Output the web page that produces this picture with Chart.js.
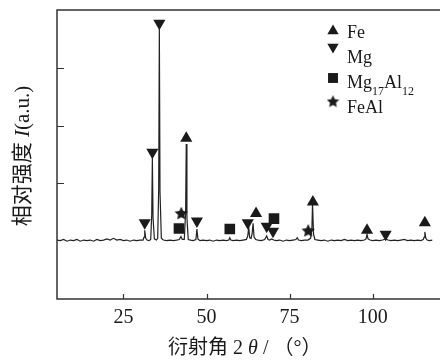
<!DOCTYPE html>
<html>
<head>
<meta charset="utf-8">
<script src="https://cdn.jsdelivr.net/npm/chart.js@4.4.1/dist/chart.umd.min.js"></script>
<style>
html, body { margin: 0; padding: 0; background: #fff; }
#c { display: block; }
</style>
</head>
<body>
<canvas id="c" width="440" height="361"></canvas>
<script>
// XRD pattern: 2θ (deg) and relative intensity
const twoTheta = [
    5, 6, 7, 8, 9, 10, 11, 12, 13, 14, 15, 16, 17, 18, 19, 20, 21, 22, 23, 24,
    25, 26, 27, 28, 29, 30, 30.9, 31.2, 31.4, 31.7, 32.1, 32.7, 33.2, 33.5, 33.7, 33.9,
    34.3, 34.9, 35.3, 35.6, 35.8, 36.0, 36.4, 37.0, 38, 39, 40, 41, 41.8, 42.3, 42.7,
    43.3, 43.7, 43.9, 44.1, 44.5, 45.2, 46.0, 46.8, 47.1, 47.4, 48, 49, 50, 51, 52,
    53, 54, 55, 56, 56.7, 57.0, 57.3, 58, 59, 60, 61, 62.0, 62.4, 62.7, 63.0, 63.4,
    63.7, 64.0, 64.3, 64.8, 65.5, 66.5, 67.5, 68.1, 68.5, 69.0, 69.6, 70.2, 71, 72,
    73, 74, 75, 76, 76.9, 77.3, 77.7, 78.5, 79.5, 80.5, 81.3, 81.7, 81.9, 82.2, 82.6,
    83.5, 84.5, 85.5, 86.5, 87.5, 88.5, 89.5, 90.5, 91.5, 92.5, 93.5, 94.5, 95.5,
    96.5, 97.5, 98.0, 98.3, 98.6, 99.2, 100, 101, 102, 103, 103.9, 104.6, 105.5,
    106.5, 107.5, 108.5, 109.5, 110.5, 111.5, 112.5, 113.5, 114.5, 115.2, 115.5,
    115.7, 116.0, 116.4, 117, 118
];
const intensity = [
    0.02, 0.01, 0.03, 0.00, 0.02, 0.01, 0.03, 0.00, 0.02, 0.01, 0.02, 0.00, 0.03, 0.01, 0.02, 0.04, 0.02, 0.05, 0.02, 0.03,
    0.01, 0.02, 0.00, 0.02, 0.01, 0.02, 0.02, 0.07, 0.19, 0.05, 0.02, 0.01, 0.03, 0.45, 1.45, 0.40,
    0.04, 0.02, 0.05, 0.90, 3.68, 0.85, 0.05, 0.02, 0.01, 0.02, 0.01, 0.02, 0.03, 0.08, 0.03,
    0.03, 0.50, 1.68, 0.40, 0.03, 0.02, 0.01, 0.03, 0.21, 0.04, 0.01, 0.02, 0.01, 0.02, 0.00,
    0.02, 0.01, 0.02, 0.01, 0.02, 0.06, 0.02, 0.01, 0.02, 0.01, 0.02, 0.03, 0.09, 0.24, 0.06, 0.05,
    0.12, 0.31, 0.07, 0.03, 0.02, 0.01, 0.03, 0.09, 0.03, 0.02, 0.04, 0.02, 0.01, 0.02,
    0.00, 0.02, 0.01, 0.02, 0.03, 0.06, 0.02, 0.01, 0.02, 0.02, 0.05, 0.20, 0.66, 0.12, 0.03,
    0.02, 0.01, 0.02, 0.00, 0.02, 0.01, 0.02, 0.01, 0.03, 0.01, 0.02, 0.01, 0.02,
    0.01, 0.02, 0.04, 0.12, 0.04, 0.02, 0.01, 0.02, 0.01, 0.02, 0.04, 0.02, 0.01,
    0.02, 0.01, 0.02, 0.03, 0.01, 0.02, 0.01, 0.02, 0.01, 0.03, 0.07,
    0.16, 0.05, 0.02, 0.01, 0.02
];

const xTicks = [25, 50, 75, 100];
const yTicks = [1, 2, 3];

// phase markers (2θ, height above the peak)
const feX = [43.9, 64.9, 82.0, 98.3, 115.7];
const feY = [1.78, 0.48, 0.68, 0.19, 0.32];
const mgX = [31.4, 33.7, 35.8, 47.1, 62.4, 68.1, 70.0, 103.9];
const mgY = [0.32, 1.54, 3.77, 0.35, 0.32, 0.26, 0.17, 0.12];
const mgAlX = [41.7, 57.0, 70.3];
const mgAlY = [0.22, 0.21, 0.39];
const feAlX = [42.4, 80.6];
const feAlY = [0.49, 0.19];

const phaseNames = ['Fe', 'Mg', 'Mg17Al12', 'FeAl'];

const SERIF = '"Liberation Serif", "Noto Sans CJK SC", serif';
const INK = '#1a1a1a';

function makeStar(size) {
    const c = document.createElement('canvas');
    c.width = size; c.height = size;
    const g = c.getContext('2d');
    const cx = size / 2, cy = size / 2 + size * 0.06, R = size / 2, r = R * 0.48;
    g.beginPath();
    for (let i = 0; i < 10; i++) {
        const a = -Math.PI / 2 + i * Math.PI / 5;
        const rr = i % 2 ? r : R;
        g.lineTo(cx + rr * Math.cos(a), cy + rr * Math.sin(a));
    }
    g.closePath();
    g.fillStyle = INK;
    g.fill();
    return c;
}
const starImg = makeStar(14);
const starSmall = makeStar(13);

const toPts = (xs, ys) => xs.map((x, i) => ({ x: x, y: ys[i] }));

const markerStyles = [
    { pointStyle: 'triangle', rotation: 0, radius: 7 },
    { pointStyle: 'triangle', rotation: 180, radius: 7 },
    { pointStyle: 'rect', rotation: 0, radius: 7.5 },
    { pointStyle: starImg, rotation: 0, radius: 7 }
];
const markerData = [toPts(feX, feY), toPts(mgX, mgY), toPts(mgAlX, mgAlY), toPts(feAlX, feAlY)];

function richWidth(ctx, parts, size) {
    let w = 0;
    parts.forEach(p => {
        ctx.font = (p[1] ? 'italic ' : '') + size + 'px ' + SERIF;
        w += ctx.measureText(p[0]).width;
    });
    return w;
}
function drawRich(ctx, parts, size, cx, cy) {
    let x = cx - richWidth(ctx, parts, size) / 2;
    ctx.textBaseline = 'middle';
    ctx.textAlign = 'left';
    parts.forEach(p => {
        ctx.font = (p[1] ? 'italic ' : '') + size + 'px ' + SERIF;
        ctx.fillText(p[0], x, cy);
        x += ctx.measureText(p[0]).width;
    });
}

const framePlugin = {
    id: 'frame',
    afterDraw(chart) {
        const ctx = chart.ctx;
        const a = chart.chartArea;
        const xs = chart.scales.x, ys = chart.scales.y;
        ctx.save();
        ctx.strokeStyle = '#333';
        ctx.lineWidth = 1.5;
        ctx.beginPath();
        ctx.moveTo(chart.width, a.top);
        ctx.lineTo(a.left, a.top);
        ctx.lineTo(a.left, a.bottom);
        ctx.lineTo(chart.width, a.bottom);
        ctx.stroke();

        // inward ticks
        ctx.lineWidth = 1.2;
        ctx.beginPath();
        xTicks.forEach(v => {
            const px = Math.round(xs.getPixelForValue(v)) + 0.5;
            ctx.moveTo(px, a.bottom);
            ctx.lineTo(px, a.bottom - 5);
        });
        yTicks.forEach(v => {
            const py = Math.round(ys.getPixelForValue(v)) + 0.5;
            ctx.moveTo(a.left, py);
            ctx.lineTo(a.left + 7, py);
        });
        ctx.stroke();

        // axis titles
        ctx.fillStyle = INK;
        drawRich(ctx, [['衍射角 2 ', false], ['θ', true], [' / （°）', false]], 20,
            (a.left + a.right) / 2, 349);
        ctx.save();
        ctx.translate(23, 156);
        ctx.rotate(-Math.PI / 2);
        drawRich(ctx, [['相对强度 ', false], ['I', true], ['(a.u.)', false]], 21, 0, 0);
        ctx.restore();

        // legend
        const lx = 333, tx = 347;
        const baselines = [38, 63, 88, 113];
        const offsets = [-7, -16, -10, -12];
        const legendStyles = [
            { pointStyle: 'triangle', rotation: 0, radius: 6.5, borderWidth: 0 },
            { pointStyle: 'triangle', rotation: 180, radius: 6.5, borderWidth: 0 },
            { pointStyle: 'rect', rotation: 0, radius: 7, borderWidth: 0 },
            { pointStyle: starSmall, rotation: 0, radius: 6, borderWidth: 0 }
        ];
        phaseNames.forEach((name, i) => {
            ctx.fillStyle = INK;
            Chart.helpers.drawPoint(ctx, legendStyles[i], lx, baselines[i] + offsets[i]);
            ctx.textBaseline = 'alphabetic';
            ctx.textAlign = 'left';
            let x = tx;
            name.split(/(\d+)/).forEach((seg, j) => {
                if (!seg) return;
                const sub = j % 2 === 1;
                ctx.font = (sub ? 12 : 18) + 'px ' + SERIF;
                ctx.fillText(seg, x, baselines[i] + (sub ? 7 : 0));
                x += ctx.measureText(seg).width;
            });
        });
        ctx.restore();
    }
};

const datasets = [{
    type: 'line',
    data: toPts(twoTheta, intensity),
    borderColor: '#222',
    borderWidth: 1.2,
    pointRadius: 0,
    tension: 0,
    order: 1
}];
markerData.forEach((pts, i) => {
    datasets.push({
        type: 'scatter',
        label: phaseNames[i],
        data: pts,
        pointStyle: markerStyles[i].pointStyle,
        rotation: markerStyles[i].rotation,
        pointRadius: markerStyles[i].radius,
        pointHoverRadius: markerStyles[i].radius,
        backgroundColor: INK,
        borderColor: INK,
        borderWidth: 0,
        order: 0
    });
});

new Chart(document.getElementById('c'), {
    data: { datasets: datasets },
    options: {
        responsive: false,
        animation: false,
        devicePixelRatio: 1,
        layout: { padding: { top: 10, right: 0, left: 0, bottom: 0 } },
        plugins: { legend: { display: false }, tooltip: { enabled: false } },
        scales: {
            x: {
                type: 'linear',
                min: 5,
                max: 118,
                grid: { display: false },
                border: { display: false },
                afterBuildTicks: s => { s.ticks = xTicks.map(v => ({ value: v })); },
                afterFit: s => { s.height = 62; },
                ticks: {
                    color: INK,
                    padding: -1,
                    font: { family: SERIF, size: 20 }
                }
            },
            y: {
                type: 'linear',
                min: -1,
                max: 4,
                grid: { display: false },
                border: { display: false },
                ticks: { display: false },
                afterBuildTicks: s => { s.ticks = yTicks.map(v => ({ value: v })); },
                afterFit: s => { s.width = 57; }
            }
        }
    },
    plugins: [framePlugin]
});
</script>
</body>
</html>
